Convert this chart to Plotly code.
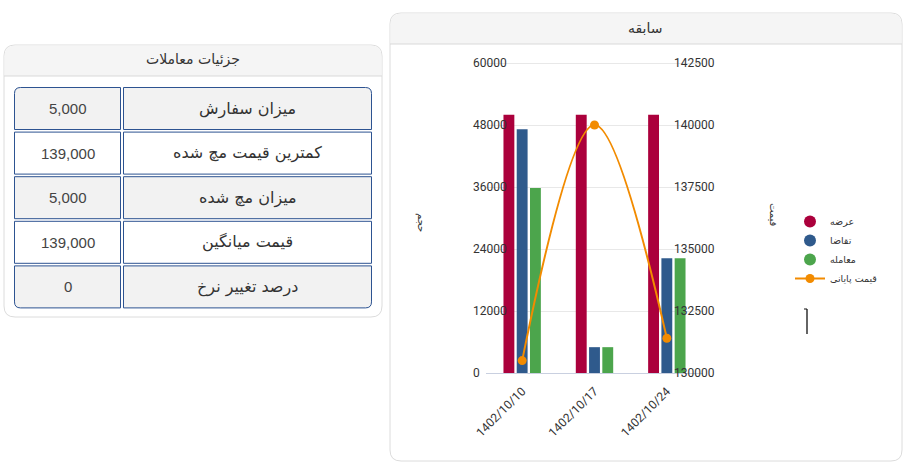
import plotly.graph_objects as go

W, H = 907, 471

# ---------------- data ----------------
dates = ["1402/10/10", "1402/10/17", "1402/10/24"]
supply = [50000, 50000, 50000]
demand = [47200, 5000, 22200]
trade = [35800, 5000, 22200]
close_price = [130500, 140000, 131400]
series_names = ["عرضه", "تقاضا", "معامله", "قیمت پایانی"]
series_colors = ["#ab003c", "#2f5a8c", "#4ca54c", "#f28b00"]

table_title = "جزئیات معاملات"
chart_title = "سابقه"
table_labels = ["میزان سفارش", "کمترین قیمت مچ شده", "میزان مچ شده", "قیمت میانگین", "درصد تغییر نرخ"]
table_values = [5000, 139000, 5000, 139000, 0]
left_axis_title = "حجم"
right_axis_title = "قیمت"

vol_min, vol_max, vol_step = 0, 60000, 12000
price_min, price_max, price_step = 130000, 142500, 2500

FA = "DejaVu Sans, sans-serif"
NUM = "Liberation Sans, Arial, sans-serif"


def px(x):
    return x / W


def py(y):
    return 1 - y / H


def rr_path(x0, y0, x1, y1, r):
    tl, tr, br, bl = r
    pts = []
    pts.append(f"M {px(x0 + tl)},{py(y0)}")
    pts.append(f"L {px(x1 - tr)},{py(y0)}")
    pts.append(f"Q {px(x1)},{py(y0)} {px(x1)},{py(y0 + tr)}")
    pts.append(f"L {px(x1)},{py(y1 - br)}")
    pts.append(f"Q {px(x1)},{py(y1)} {px(x1 - br)},{py(y1)}")
    pts.append(f"L {px(x0 + bl)},{py(y1)}")
    pts.append(f"Q {px(x0)},{py(y1)} {px(x0)},{py(y1 - bl)}")
    pts.append(f"L {px(x0)},{py(y0 + tl)}")
    pts.append(f"Q {px(x0)},{py(y0)} {px(x0 + tl)},{py(y0)}")
    pts.append("Z")
    return " ".join(pts)


shapes = []
annotations = []


def label(text, x, y, font, angle=0):
    annotations.append(dict(text=text, x=px(x), y=py(y), xref="paper", yref="paper",
                            xanchor="center", yanchor="middle", showarrow=False,
                            textangle=angle, font=font))


def card(x0, y0, x1, y1, hy, title, tx, ty):
    shapes.append(dict(type="path", xref="paper", yref="paper", layer="below",
                       path=rr_path(x0, y0, x1, y1, (11, 11, 11, 11)),
                       fillcolor="white", line=dict(color="#dcdcdc", width=1)))
    shapes.append(dict(type="path", xref="paper", yref="paper", layer="below",
                       path=rr_path(x0 + 0.5, y0 + 0.5, x1 - 0.5, hy, (11, 11, 0, 0)),
                       fillcolor="#f5f5f5", line=dict(width=0)))
    shapes.append(dict(type="line", xref="paper", yref="paper", layer="below",
                       x0=px(x0), x1=px(x1), y0=py(hy), y1=py(hy),
                       line=dict(color="#d9d9d9", width=1)))
    label(title, tx, ty, dict(family=FA, size=14, color="#333"))


card(4, 45, 382, 317, 76, table_title, 193, 60)
card(390, 13, 902, 461, 44, chart_title, 645, 28)

# ---------------- table ----------------
row_top, row_h, row_pitch = 87.5, 42, 44.6
val_x0, val_x1 = 14.5, 120.5
lab_x0, lab_x1 = 123.5, 371.5
n = len(table_labels)
for i, (lab, val) in enumerate(zip(table_labels, table_values)):
    y0 = row_top + i * row_pitch
    y1 = y0 + row_h
    fill = "#f2f2f2" if i % 2 == 0 else "white"
    rl = (6 if i == 0 else 0, 0, 0, 6 if i == n - 1 else 0)
    rr = (0, 6 if i == 0 else 0, 6 if i == n - 1 else 0, 0)
    shapes.append(dict(type="path", xref="paper", yref="paper", layer="below",
                       path=rr_path(val_x0, y0, val_x1, y1, rl),
                       fillcolor=fill, line=dict(color="#2d5391", width=1)))
    shapes.append(dict(type="path", xref="paper", yref="paper", layer="below",
                       path=rr_path(lab_x0, y0, lab_x1, y1, rr),
                       fillcolor=fill, line=dict(color="#2d5391", width=1)))
    label(f"{val:,}", (val_x0 + val_x1) / 2, (y0 + y1) / 2, dict(family=NUM, size=15, color="#444"))
    label(lab, (lab_x0 + lab_x1) / 2, (y0 + y1) / 2, dict(family=FA, size=16, color="#333"))

# axis titles
label(left_axis_title, 421, 222, dict(family=FA, size=10, color="#333"), angle=90)
label(right_axis_title, 774, 215, dict(family=FA, size=10, color="#333"), angle=90)

# small cursor mark
shapes.append(dict(type="line", xref="paper", yref="paper", x0=px(807), x1=px(807),
                   y0=py(309), y1=py(334), line=dict(color="#111", width=1.3)))
shapes.append(dict(type="line", xref="paper", yref="paper", x0=px(804), x1=px(807),
                   y0=py(309), y1=py(309), line=dict(color="#111", width=1)))

# ---------------- traces ----------------
fig = go.Figure()
for vals, name, col in zip([supply, demand, trade], series_names[:3], series_colors[:3]):
    fig.add_trace(go.Bar(x=dates, y=vals, name=name, marker=dict(color=col, line=dict(width=0)),
                         showlegend=False, yaxis="y"))
for name, col in zip(series_names[:3], series_colors[:3]):
    fig.add_trace(go.Scatter(x=[None], y=[None], mode="markers", name=name,
                             marker=dict(color=col, size=12), yaxis="y"))
fig.add_trace(go.Scatter(x=dates, y=close_price, name=series_names[3], yaxis="y2",
                         mode="lines+markers", line=dict(color=series_colors[3], width=2, shape="spline", smoothing=1),
                         marker=dict(color=series_colors[3], size=9)))

# plot area: value range spans pixel rows 63..373; pad 8px each way so inside labels are not hidden
top_px, bot_px, pad = 63, 373, 8
vpp = (vol_max - vol_min) / (bot_px - top_px)
ppp = (price_max - price_min) / (bot_px - top_px)

tickfont = dict(family="Roboto, sans-serif", size=12, color="#333")
fig.update_layout(
    width=W, height=H,
    margin=dict(l=0, r=0, t=0, b=0, autoexpand=False),
    paper_bgcolor="white", plot_bgcolor="rgba(0,0,0,0)",
    barmode="group", bargap=0.45, bargroupgap=0.18,
    shapes=shapes, annotations=annotations,
    font=dict(family=FA, color="#333"),
    showlegend=True,
    legend=dict(x=px(790), y=py(207), xanchor="left", yanchor="top",
                font=dict(family=FA, size=9.5, color="#333"), bgcolor="rgba(0,0,0,0)",
                tracegroupgap=0, itemwidth=30),
    xaxis=dict(domain=[px(486), px(703)], type="category", range=[-0.5, 2.5], automargin=False,
               tickangle=-45, showline=False, showgrid=False, zeroline=False, ticks="",
               ticklabelstandoff=0, tickfont=tickfont),
    yaxis=dict(domain=[py(bot_px + pad), py(top_px - pad)],
               range=[vol_min - pad * vpp, vol_max + pad * vpp], tick0=vol_min, dtick=vol_step,
               automargin=False, tickformat="d", showgrid=True, gridcolor="#e8e8e8",
               zeroline=True, zerolinecolor="#c9d0e0", zerolinewidth=1, ticks="",
               ticklabelposition="inside", ticklabelstandoff=-16, tickfont=tickfont),
    yaxis2=dict(overlaying="y", side="right",
                range=[price_min - pad * ppp, price_max + pad * ppp], tick0=price_min, dtick=price_step,
                automargin=False, tickformat="d",
                showgrid=False, zeroline=False, ticks="", ticklabelstandoff=-30, tickfont=tickfont),
)

fig.write_html("out.html", config={"displayModeBar": False},
               post_script="document.body.style.margin='0px';document.body.style.overflow='hidden';")
